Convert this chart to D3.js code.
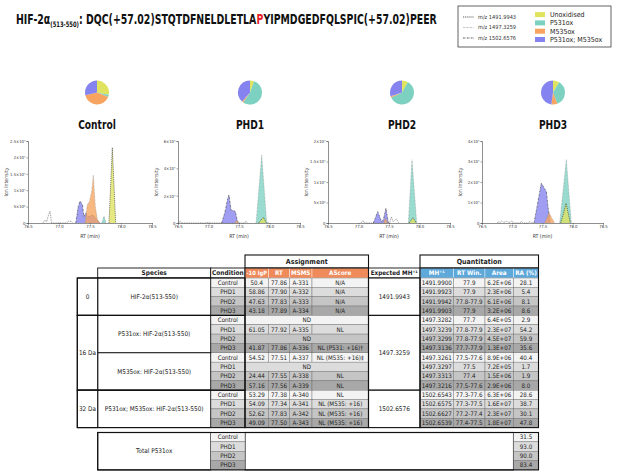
<!DOCTYPE html>
<html>
<head>
<meta charset="utf-8">
<script src="https://cdn.jsdelivr.net/npm/d3@7"></script>
<style>
  body { margin: 0; background: #fff; }
  svg { display: block; }
  text { font-family: "Liberation Sans Narrow", "DejaVu Sans Condensed", "Liberation Sans", sans-serif; }
</style>
</head>
<body>
<svg id="fig" width="617" height="474"></svg>
<script>
// ---- data ----
const conditions = ['Control', 'PHD1', 'PHD2', 'PHD3'];
const speciesNames = ['Unoxidised', 'P531ox', 'M535ox', 'P531ox; M535ox'];
const speciesColors = ['#dfe35e', '#7dd1c1', '#f6a45f', '#8583ef'];
const mzLabels = ['m/z 1491.9943', 'm/z 1497.3259', 'm/z 1502.6576'];

// relative abundance (%) per condition
const raUnox = [28.1, 5.4, 8.1, 8.6];
const raP531 = [2.9, 54.2, 59.9, 35.6];
const raM535 = [40.4, 1.7, 1.9, 8.0];
const raBoth = [28.6, 38.7, 30.1, 47.8];
const totalP531 = ['31.5', '93.0', '90.0', '83.4'];

// extracted ion chromatograms [RT (min), intensity]
const ctrlNoise = [[76.74,0],[76.77,0.9e6],[76.8,0.3e6],[76.83,2.4e6],[76.855,3.6e6],[76.88,0],[77.12,0],[77.16,0.6e6],[77.2,0.5e6],[77.22,0]];
const ctrlBoth = [[77.27,0],[77.31,5e6],[77.34,6.7e6],[77.38,5.5e6],[77.4,1.9e6],[77.435,3.1e6],[77.47,2e6],[77.51,2.2e6],[77.55,2.4e6],[77.61,1e6],[77.66,0]];
const ctrlM535 = [[77.42,0],[77.455,5.5e6],[77.49,6.5e6],[77.53,1e7],[77.553,1.46e7],[77.586,5e6],[77.62,1e6],[77.66,0]];
const ctrlP531 = [[77.69,0],[77.726,2.1e6],[77.758,0]];
const ctrlUnox = [[77.806,0],[77.86,2.3e7],[77.914,0]];

const phd1Noise = [[76.51,0],[76.535,1.5e6],[76.56,0],[76.97,0],[77.0,0.7e6],[77.03,0],[77.59,0],[77.615,1.5e6],[77.64,0]];
const phd1Both = [[77.216,0],[77.27,8e6],[77.31,1.7e7],[77.336,2.05e7],[77.37,9.5e6],[77.41,9e6],[77.44,8.5e6],[77.47,2e6],[77.49,0]];
const phd1M535 = [[77.43,0],[77.47,2.2e6],[77.49,0]];
const phd1P531 = [[77.78,0],[77.872,4.98e7],[77.954,0],[77.97,1e6],[77.99,0]];
const phd1Unox = [[77.82,0],[77.9,4.2e6],[77.95,0]];

const phd2Noise = [[77.04,0],[77.07,0.6e6],[77.1,0],[77.51,0],[77.54,1.5e6],[77.57,0.3e6],[77.62,1e6],[77.66,0]];
const phd2Both = [[77.243,0],[77.315,2.76e6],[77.38,0.3e6],[77.407,0.8e6],[77.45,3.6e6],[77.49,0]];
const phd2M535 = [[77.41,0],[77.44,1.2e6],[77.48,0]];
const phd2P531 = [[77.817,0],[77.877,1.54e7],[77.954,0]];
const phd2Unox = [[77.83,0],[77.89,1.3e6],[77.95,0]];

const phd3Noise = [[76.75,0],[76.77,0.6e6],[76.8,0.2e6],[76.82,1e6],[76.86,0.3e6],[76.9,0.8e6],[76.95,0.2e6],[76.99,1.1e6],[77.02,0],[77.13,0],[77.15,0.8e6],[77.18,0],[77.26,0],[77.28,0.6e6],[77.31,0.5e6],[77.34,0]];
const phd3Both = [[77.36,0],[77.41,8e6],[77.48,1.94e7],[77.565,1.53e7],[77.59,8e6],[77.63,0]];
const phd3M535 = [[77.537,0],[77.608,5e6],[77.7,0]];
const phd3P531 = [[77.784,0],[77.894,3.1e7],[77.976,0]];
const phd3Unox = [[77.8,0],[77.84,3.9e6],[77.89,9.6e6],[77.96,0]];

const yMax = [2.5e7, 6e7, 2e7, 4e7];
const yTicks = [[0,5e6,1e7,1.5e7,2e7,2.5e7],[0,2e7,4e7,6e7],[0,5e6,1e7,1.5e7,2e7],[0,1e7,2e7,3e7,4e7]];
const rtTicks = [76.5, 77.0, 77.5, 78.0, 78.5];

// table columns (rows follow species x condition)
const daGroups = ['0', '16 Da', '32 Da'];
const daSpan = [4, 8, 4];
const expectedMH = ['1491.9943', '1497.3259', '1502.6576'];
const speciesRows = ['HIF-2α(513-550)', 'P531ox: HIF-2α(513-550)', 'M535ox: HIF-2α(513-550)', 'P531ox; M535ox: HIF-2α(513-550)'];
const lgP = ['50.4','58.86','47.63','43.18', null,'61.05',null,'41.87', '54.52',null,'24.44','57.16', '53.29','54.09','52.62','49.09'];
const rtObs = ['77.86','77.90','77.83','77.89', null,'77.92',null,'77.86', '77.51',null,'77.55','77.56', '77.38','77.34','77.83','77.50'];
const msms = ['A-331','A-332','A-333','A-334', null,'A-335',null,'A-336', 'A-337',null,'A-338','A-339', 'A-340','A-341','A-342','A-343'];
const ascore = ['N/A','N/A','N/A','N/A', null,'NL',null,'NL (P531: +16)†', 'NL (M535: +16)‡',null,'NL','NL', 'NL','NL (M535: +16)','NL (M535: +16)','NL (M535: +16)'];
const mhObs = ['1491.9900','1491.9923','1491.9942','1491.9903', '1497.3282','1497.3239','1497.3299','1497.3136', '1497.3261','1497.3297','1497.3313','1497.3216', '1502.6543','1502.6575','1502.6627','1502.6539'];
const rtWin = ['77.9','77.9','77.8-77.9','77.9', '77.7','77.8-77.9','77.8-77.9','77.7-77.9', '77.5-77.6','77.5','77.4','77.5-77.6', '77.3-77.6','77.3-77.5','77.2-77.4','77.4-77.5'];
const area = ['6.2E+06','2.3E+06','6.1E+06','3.2E+06', '6.4E+05','2.3E+07','4.5E+07','1.3E+07', '8.9E+06','7.2E+05','1.5E+06','2.9E+06', '6.3E+06','1.6E+07','2.3E+07','1.8E+07'];

const svg = d3.select('#fig');

// ---- title (pieces laid side by side, then squeezed to the original width) ----
const titleParts = [
  { t: 'HIF-2α', size: 13.5, dy: 0, fill: '#111' },
  { t: '(513-550)', size: 7.5, dy: 3, fill: '#111' },
  { t: ': DQC(+57.02)STQTDFNELDLETLA', size: 13.5, dy: 0, fill: '#111' },
  { t: 'P', size: 13.5, dy: 0, fill: '#e8202a' },
  { t: 'YIPMDGEDFQLSPIC(+57.02)PEER', size: 13.5, dy: 0, fill: '#111' },
];
const titleG = svg.append('g');
let tx = 0;
titleParts.forEach(p => {
  const el = titleG.append('text').attr('x', tx).attr('y', 24 + p.dy)
    .attr('font-size', p.size).attr('font-weight', 'bold').attr('fill', p.fill).text(p.t);
  tx += el.node().getComputedTextLength();
});
titleG.attr('transform', `translate(16,0) scale(${421 / tx},1)`);

// ---- legend ----
const leg = svg.append('g');
leg.append('rect').attr('x', 458).attr('y', 6).attr('width', 153).attr('height', 41)
  .attr('fill', '#fff').attr('stroke', '#222').attr('stroke-width', 0.7);
const dashes = ['1.2,0.9', '0.6,0.8', '1.8,0.8,0.5,0.8'];
const dashCol = ['#333', '#888', '#333'];
mzLabels.forEach((t, i) => {
  const y = 17 + i * 10.5;
  leg.append('line').attr('x1', 463).attr('x2', 474).attr('y1', y).attr('y2', y)
    .attr('stroke', dashCol[i]).attr('stroke-width', 0.8).attr('stroke-dasharray', dashes[i]);
  leg.append('text').attr('x', 478).attr('y', y).attr('dy', '0.35em').attr('font-size', 5.6).attr('fill', '#333').text(t);
});
speciesNames.forEach((t, i) => {
  const y = 14.6 + i * 8.3;
  leg.append('rect').attr('x', 535).attr('y', y - 2.5).attr('width', 10).attr('height', 5).attr('fill', speciesColors[i]);
  leg.append('text').attr('x', 550).attr('y', y).attr('dy', '0.35em').attr('font-size', 7).attr('fill', '#222').text(t);
});

// ---- pies ----
const pieX = [97, 250, 402, 553];
const pie = d3.pie().sort(null).value(d => d);
const arc = d3.arc().innerRadius(0).outerRadius(12);
const pieLabels = [];
conditions.forEach((c, i) => {
  const vals = [raUnox[i], raP531[i], raM535[i], raBoth[i]];
  svg.append('g').attr('transform', `translate(${pieX[i]},92.5)`)
    .selectAll('path').data(pie(vals)).join('path')
    .attr('d', arc).attr('fill', (d, j) => speciesColors[j]);
  pieLabels.push(svg.append('text').attr('x', pieX[i]).attr('y', 128.5).attr('text-anchor', 'middle')
    .attr('font-size', 12.5).attr('font-weight', 'bold').attr('fill', '#111').text(c));
});
// squeeze labels to the narrow face of the original
const squeeze = 37.7 / pieLabels[0].node().getComputedTextLength();
pieLabels.forEach(l => l.attr('textLength', l.node().getComputedTextLength() * squeeze).attr('lengthAdjust', 'spacingAndGlyphs'));

// ---- chromatograms ----
const traces = [
  [ctrlNoise, ctrlBoth, ctrlM535, ctrlP531, ctrlUnox],
  [phd1Noise, phd1Both, phd1M535, phd1P531, phd1Unox],
  [phd2Noise, phd2Both, phd2M535, phd2P531, phd2Unox],
  [phd3Noise, phd3Both, phd3M535, phd3P531, phd3Unox],
];
const chartX0 = [28, 178, 328, 482];
const chartX1 = [152, 300, 450, 603];
const supDigits = '⁰¹²³⁴⁵⁶⁷⁸⁹';
function sci(v) {
  if (v === 0) return '0';
  const e = Math.floor(Math.log10(v) + 1e-9);
  const m = +(v / Math.pow(10, e)).toFixed(1);
  return m + '×10' + String(e).split('').map(ch => supDigits[+ch]).join('');
}
// fill / stroke per trace: noise, both, M535, P531, unox
const traceFill = ['#fff', speciesColors[3], speciesColors[2], speciesColors[1], speciesColors[0]];
const traceStroke = ['#555', '#333', '#888', '#888', '#333'];
const traceDash = ['1,0.8', dashes[2], dashes[1], dashes[1], dashes[0]];

conditions.forEach((c, i) => {
  const x = d3.scaleLinear().domain([76.5, 78.5]).range([chartX0[i], chartX1[i]]);
  const y = d3.scaleLinear().domain([0, yMax[i]]).range([223, 141]);
  const g = svg.append('g');
  const areaGen = d3.area().x(d => x(d[0])).y0(y(0)).y1(d => y(d[1]));
  const lineGen = d3.line().x(d => x(d[0])).y(d => y(d[1]));
  traces[i].forEach((tr, j) => {
    g.append('path').attr('d', areaGen(tr)).attr('fill', traceFill[j]).attr('fill-opacity', j === 0 ? 1 : 0.78);
    g.append('path').attr('d', lineGen(tr)).attr('fill', 'none').attr('stroke', traceStroke[j])
      .attr('stroke-width', 0.6).attr('stroke-dasharray', traceDash[j]);
  });
  const ax = g.append('g').attr('transform', `translate(0,223)`)
    .call(d3.axisBottom(x).tickValues(rtTicks).tickFormat(d3.format('.1f')).tickSize(1.5).tickPadding(1));
  const ay = g.append('g').attr('transform', `translate(${chartX0[i]},0)`)
    .call(d3.axisLeft(y).tickValues(yTicks[i]).tickFormat(sci).tickSize(1.5).tickPadding(1));
  [ax, ay].forEach(a => {
    a.select('.domain').attr('stroke', '#444').attr('stroke-width', 0.6);
    a.selectAll('.tick line').attr('stroke', '#444').attr('stroke-width', 0.5);
    a.selectAll('.tick text').attr('font-size', 4.2).attr('fill', '#333')
      .attr('font-family', '"Liberation Sans Narrow", "DejaVu Sans Condensed", sans-serif');
  });
  g.append('text').attr('x', (chartX0[i] + chartX1[i]) / 2).attr('y', 237.5).attr('text-anchor', 'middle')
    .attr('font-size', 5.2).attr('fill', '#333').text('RT (min)');
  g.append('text').attr('transform', `translate(${chartX0[i] - 20},182) rotate(-90)`).attr('text-anchor', 'middle')
    .attr('font-size', 5.2).attr('fill', '#333').text('Ion Intensity');
});

// ---- table ----
const tbl = svg.append('g');
const colX = [77.3, 97.7, 210.7, 245, 268.5, 289.5, 312, 368.5, 420, 453.5, 485, 513.5, 538.5];
const headTop = 268, bodyTop = 278, rowH = 9.35;
const rowY = r => bodyTop + r * rowH;
const bodyBot = rowY(16);
const shades = ['#f3f3f3', '#dcdcdc', '#c5c5c5', '#a8a8a8'];
const orange = '#ef8a5b', blue = '#5ea8da';
const FS = 6.2;

function box(x0, x1, y0, y1, fill, stroke, sw) {
  tbl.append('rect').attr('x', x0).attr('y', y0).attr('width', x1 - x0).attr('height', y1 - y0)
    .attr('fill', fill || 'none').attr('stroke', stroke || 'none').attr('stroke-width', sw || 0);
}
function txt(x, y, t, opt = {}) {
  const el = tbl.append('text').attr('x', x).attr('y', y).attr('dy', '0.35em').attr('text-anchor', 'middle')
    .attr('font-size', opt.size || FS).attr('font-weight', opt.bold ? 'bold' : 'normal').attr('fill', opt.color || '#222');
  return el.text(t);
}
const mid = (a, b) => (a + b) / 2;

// section headers
box(colX[3], colX[7], 255, headTop, '#fff', '#111', 1.1);
txt(mid(colX[3], colX[7]), 261.5, 'Assignment', { bold: true, size: 7 });
box(colX[8], colX[12], 255, headTop, '#fff', '#111', 1.1);
txt(mid(colX[8], colX[12]), 261.5, 'Quantitation', { bold: true, size: 7 });

// column headers
const hy = mid(headTop, bodyTop);
box(colX[1], colX[2], headTop, bodyTop, '#fff', '#111', 0.9);
txt(mid(colX[1], colX[2]), hy, 'Species', { bold: true, size: 6.5 });
box(colX[2], colX[3], headTop, bodyTop, '#fff', '#111', 0.9);
txt(mid(colX[2], colX[3]), hy, 'Condition', { bold: true, size: 6.5 });
['-10 lgP', 'RT', 'MSMS', 'AScore'].forEach((h, j) => {
  box(colX[3 + j], colX[4 + j], headTop, bodyTop, orange, '#fff', 0.4);
  txt(mid(colX[3 + j], colX[4 + j]), hy, h, { bold: true, size: j === 0 ? 5.8 : 6.3, color: '#fff' });
});
box(colX[7], colX[8], headTop, bodyTop, '#fff', '#111', 0.9);
txt(mid(colX[7], colX[8]), hy, 'Expected MH⁺¹', { bold: true, size: 6.3 });
['MH⁺¹', 'RT Win.', 'Area', 'RA (%)'].forEach((h, j) => {
  box(colX[8 + j], colX[9 + j], headTop, bodyTop, blue, '#fff', 0.4);
  txt(mid(colX[8 + j], colX[9 + j]), hy, h, { bold: true, size: 6.3, color: '#fff' });
});

// body rows
const raAll = raUnox.concat(raP531, raM535, raBoth).map(v => v.toFixed(1));
for (let r = 0; r < 16; r++) {
  const c = r % 4, y0 = rowY(r), y1 = rowY(r + 1), yc = mid(y0, y1);
  box(colX[2], colX[3], y0, y1, shades[c], '#666', 0.4);
  txt(mid(colX[2], colX[3]), yc, conditions[c]);
  if (lgP[r] === null) {
    box(colX[3], colX[7], y0, y1, shades[c], '#666', 0.4);
    txt(mid(colX[3], colX[7]), yc, 'ND');
  } else {
    [lgP[r], rtObs[r], msms[r], ascore[r]].forEach((v, j) => {
      box(colX[3 + j], colX[4 + j], y0, y1, shades[c], '#666', 0.4);
      txt(mid(colX[3 + j], colX[4 + j]), yc, v);
    });
  }
  [mhObs[r], rtWin[r], area[r], raAll[r]].forEach((v, j) => {
    box(colX[8 + j], colX[9 + j], y0, y1, shades[c], '#666', 0.4);
    txt(mid(colX[8 + j], colX[9 + j]), yc, v);
  });
}

// species cells
speciesRows.forEach((s, k) => {
  const y0 = rowY(k * 4), y1 = rowY(k * 4 + 4);
  box(colX[1], colX[2], y0, y1, '#fff', '#111', 0.9);
  txt(mid(colX[1], colX[2]), mid(y0, y1), s, { size: 6.4 });
});

// Da groups + expected MH
let start = 0;
daGroups.forEach((d, k) => {
  const y0 = rowY(start), y1 = rowY(start + daSpan[k]);
  box(colX[0], colX[1], y0, y1, '#fff', '#111', 1.1);
  txt(mid(colX[0], colX[1]), mid(y0, y1), d, { size: 6.4 });
  box(colX[0], colX[3], y0, y1, 'none', '#111', 1.1);
  box(colX[7], colX[8], y0, y1, '#fff', '#111', 1.1);
  txt(mid(colX[7], colX[8]), mid(y0, y1), expectedMH[k], { size: 6.4 });
  start += daSpan[k];
});
box(colX[3], colX[7], headTop, bodyBot, 'none', '#111', 1.1);
box(colX[8], colX[12], headTop, bodyBot, 'none', '#111', 1.1);

// total P531ox table
const tTop = 432.5;
const tRow = r => tTop + r * rowH;
box(colX[1], colX[2], tTop, tRow(4), '#fff', '#111', 1.1);
txt(mid(colX[1], colX[2]), mid(tTop, tRow(4)), 'Total P531ox', { size: 6.4 });
box(colX[3], colX[11], tTop, tRow(4), '#fff', '#111', 1.1);
totalP531.forEach((v, r) => {
  box(colX[2], colX[3], tRow(r), tRow(r + 1), shades[r], '#666', 0.4);
  txt(mid(colX[2], colX[3]), mid(tRow(r), tRow(r + 1)), conditions[r]);
  box(colX[11], colX[12], tRow(r), tRow(r + 1), shades[r], '#666', 0.4);
  txt(mid(colX[11], colX[12]), mid(tRow(r), tRow(r + 1)), v);
});
box(colX[1], colX[12], tTop, tRow(4), 'none', '#111', 1.1);
</script>
</body>
</html>
